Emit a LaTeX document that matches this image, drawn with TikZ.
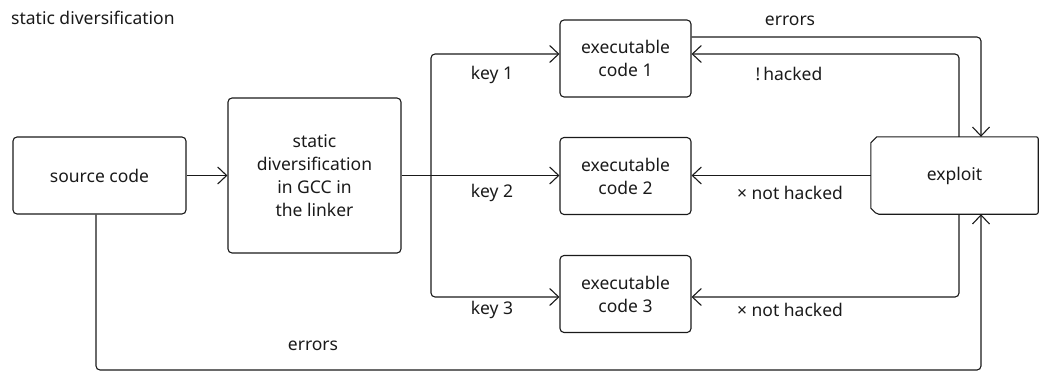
\documentclass[tikz,border=0pt]{standalone}
\usepackage{fontspec}
\setmainfont{Noto Sans}
\usetikzlibrary{arrows.meta,calc}
\definecolor{ink}{HTML}{1A1A1A}
\tikzset{
  box/.style={draw=ink, line width=1.1pt, rounded corners=4pt, align=center,
    inner sep=0pt, text=ink},
  lbl/.style={text=ink, inner sep=0pt, anchor=center},
  arr/.style={draw=ink, line width=1.1pt, rounded corners=4pt,
    -{Straight Barb[length=9pt,width=17pt,line width=1.1pt]}},
  plain/.style={draw=ink, line width=1.1pt, rounded corners=4pt},
}
\begin{document}
\begin{tikzpicture}[x=1pt, y=-1pt, font=\fontsize{17.5}{23}\selectfont]
\useasboundingbox (0,0) rectangle (1039,373);

% title
\node[lbl, anchor=west] (title) at (11,18) {static diversification};

% main boxes
\node[box, minimum width=173pt, minimum height=77pt] (src) at (99.5,175.5) {source code};
\node[box, minimum width=173pt, minimum height=155pt] (div) at (314.5,175.5)
  {static\\diversification\\in GCC in\\the linker};
\node[box, minimum width=131pt, minimum height=77pt] (ex1) at (625.5,58.5) {executable\\code 1};
\node[box, minimum width=131pt, minimum height=77pt] (ex2) at (625.5,176) {executable\\code 2};
\node[box, minimum width=131pt, minimum height=77pt] (ex3) at (625.5,294) {executable\\code 3};

% exploit box: chamfered on the left, slightly rounded on the right
\node[lbl, minimum width=167pt, minimum height=77pt] (xp) at (954.5,175.5) {exploit};
\draw[draw=ink, line width=1.1pt, rounded corners=2pt]
  ($(xp.north west)+(6,0)$) -- (xp.north east) -- (xp.south east)
  -- ($(xp.south west)+(6,0)$) [sharp corners] -- ($(xp.south west)+(0,-6)$)
  -- ($(xp.north west)+(0,6)$) -- cycle;

% routing points
\coordinate (kx1) at (431,54);
\coordinate (kx3) at (431,297);
\coordinate (et) at (981,37);
\coordinate (ht) at (959,54);
\coordinate (hb) at (959,297);
\coordinate (sb) at (96,370);
\coordinate (eb) at (981,370);

% source code to diversification
\draw[arr] (src.east) -- (div.west);

% key distribution
\draw[arr] (div.east) -- (ex2.west |- div.east);
\draw[plain, {Straight Barb[length=9pt,width=17pt,line width=1.1pt]}-{Straight Barb[length=9pt,width=17pt,line width=1.1pt]}]
  (ex1.west |- kx1) -- (kx1) -- (kx3) -- (ex3.west |- kx3);

% feedback to and from the exploit
\draw[arr] (ex1.east |- et) -- (et) -- (xp.north -| et);
\draw[arr] (xp.north -| ht) -- (ht) -- (ex1.east |- ht);
\draw[arr] (xp.west) -- (ex2.east |- xp.west);
\draw[arr] (xp.south -| hb) -- (hb) -- (ex3.east |- hb);
\draw[arr] (src.south -| sb) -- (sb) -- (eb) -- (xp.south -| eb);

% labels
\node[lbl] (lk1) at (492,75) {key 1};
\node[lbl] (lk2) at (492,193) {key 2};
\node[lbl] (lk3) at (492,310) {key 3};
\node[lbl] (let) at (790,21) {errors};
\node[lbl] (lh) at (789,74) {!\,hacked};
\node[lbl] (ln2) at (790,193) {× not hacked};
\node[lbl] (ln3) at (790,310) {× not hacked};
\node[lbl] (leb) at (313,346) {errors};
\end{tikzpicture}
\end{document}
